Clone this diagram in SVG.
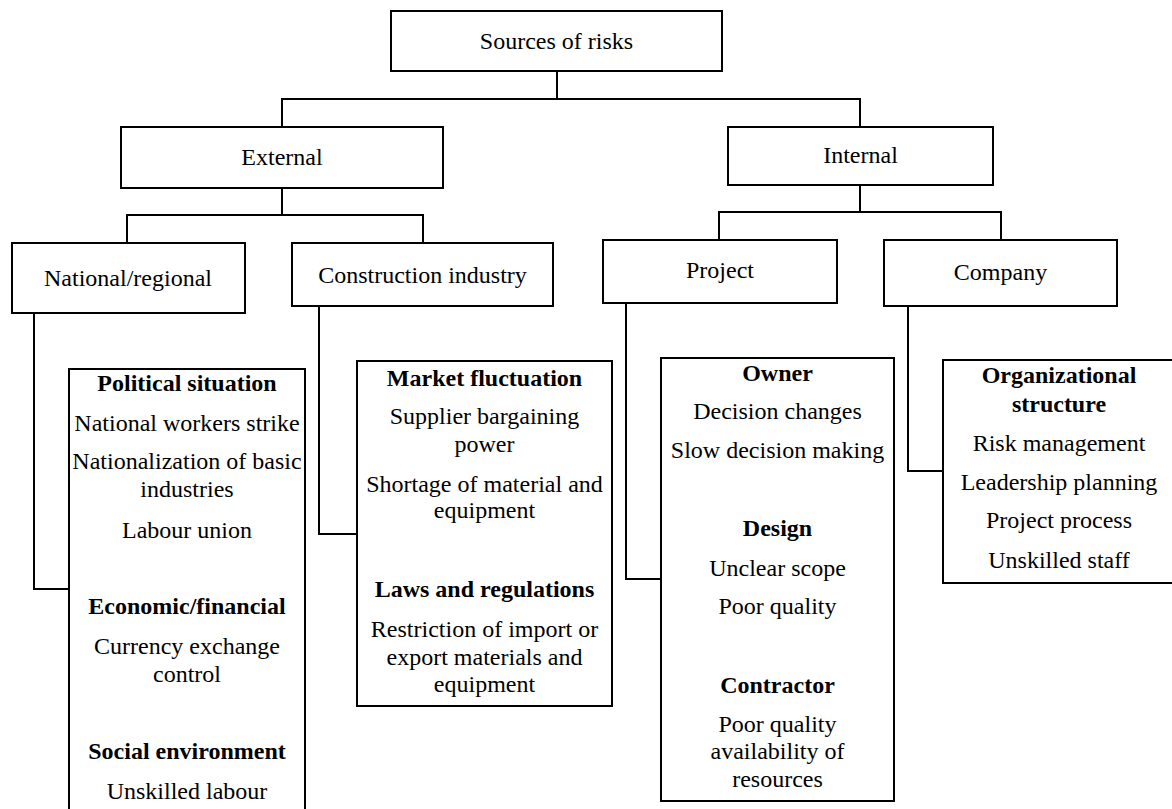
<svg xmlns="http://www.w3.org/2000/svg" width="1172" height="809" viewBox="0 0 1172 809" font-family="'Liberation Serif', 'Times New Roman', Times, serif">
<style>
.box{fill:#fff;stroke:#000;stroke-width:2}
.con{fill:none;stroke:#000;stroke-width:2}
text{font-family:'Liberation Serif','Times New Roman',Times,serif;font-size:24px;fill:#000;text-anchor:middle}
.b{font-weight:bold}
</style>
<rect width="1172" height="809" fill="#fff"/>
<g id="connectors">
<polyline class="con" points="557,71 557,99"/>
<polyline class="con" points="282,127 282,99 860,99 860,127"/>
<polyline class="con" points="282,188 282,215"/>
<polyline class="con" points="127,243 127,215 423,215 423,243"/>
<polyline class="con" points="860,185 860,212"/>
<polyline class="con" points="719,240 719,212 1001,212 1001,240"/>
<polyline class="con" points="34,313 34,589 69,589"/>
<polyline class="con" points="319,306 319,534 357,534"/>
<polyline class="con" points="626,303 626,579 661,579"/>
<polyline class="con" points="908,306 908,471 943,471"/>
</g>
<g id="sources"><rect class="box" x="391" y="11" width="331" height="60"/><text x="556.5" y="49">Sources of risks</text></g>
<g id="external"><rect class="box" x="121" y="127" width="322" height="61"/><text x="282" y="165">External</text></g>
<g id="internal"><rect class="box" x="728" y="127" width="265" height="58"/><text x="860.5" y="163">Internal</text></g>
<g id="national"><rect class="box" x="12" y="243" width="233" height="70"/><text x="128" y="286">National/regional</text></g>
<g id="construction"><rect class="box" x="292" y="243" width="261" height="63"/><text x="422.5" y="283">Construction industry</text></g>
<g id="project"><rect class="box" x="603" y="240" width="234" height="63"/><text x="720" y="278">Project</text></g>
<g id="company"><rect class="box" x="884" y="240" width="233" height="66"/><text x="1000.5" y="280">Company</text></g>
<g id="national-list"><rect class="box" x="69" y="369" width="236" height="450"/>
<text class="b" x="187" y="391">Political situation</text>
<text x="187" y="431">National workers strike</text>
<text x="187" y="469">Nationalization of basic</text>
<text x="187" y="497">industries</text>
<text x="187" y="538">Labour union</text>
<text class="b" x="187" y="614">Economic/financial</text>
<text x="187" y="654">Currency exchange</text>
<text x="187" y="682">control</text>
<text class="b" x="187" y="759">Social environment</text>
<text x="187" y="799">Unskilled labour</text>
</g>
<g id="construction-list"><rect class="box" x="357" y="361" width="255" height="345"/>
<text class="b" x="484.5" y="386">Market fluctuation</text>
<text x="484.5" y="424">Supplier bargaining</text>
<text x="484.5" y="452">power</text>
<text x="484.5" y="492">Shortage of material and</text>
<text x="484.5" y="518">equipment</text>
<text class="b" x="484.5" y="597">Laws and regulations</text>
<text x="484.5" y="637">Restriction of import or</text>
<text x="484.5" y="665">export materials and</text>
<text x="484.5" y="692">equipment</text>
</g>
<g id="project-list"><rect class="box" x="661" y="358" width="233" height="443"/>
<text class="b" x="777.5" y="381">Owner</text>
<text x="777.5" y="419">Decision changes</text>
<text x="777.5" y="458">Slow decision making</text>
<text class="b" x="777.5" y="536">Design</text>
<text x="777.5" y="576">Unclear scope</text>
<text x="777.5" y="614">Poor quality</text>
<text class="b" x="777.5" y="693">Contractor</text>
<text x="777.5" y="732">Poor quality</text>
<text x="777.5" y="759">availability of</text>
<text x="777.5" y="787">resources</text>
</g>
<g id="company-list"><rect class="box" x="943" y="360" width="235" height="223"/>
<text class="b" x="1059" y="383">Organizational</text>
<text class="b" x="1059" y="412">structure</text>
<text x="1059" y="451">Risk management</text>
<text x="1059" y="490">Leadership planning</text>
<text x="1059" y="528">Project process</text>
<text x="1059" y="568">Unskilled staff</text>
</g>
</svg>
